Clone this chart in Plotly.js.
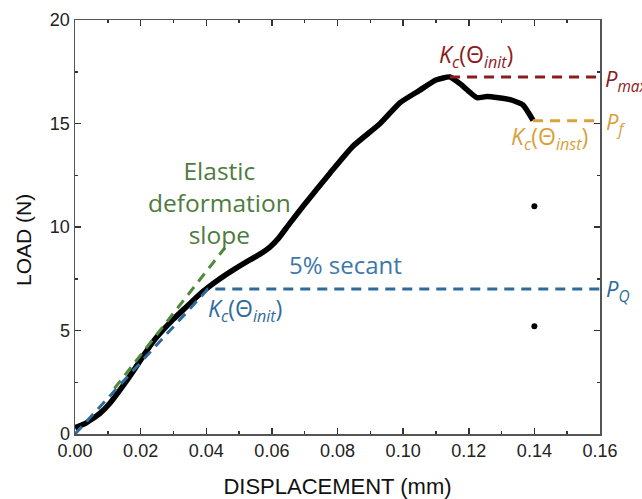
<!DOCTYPE html>
<html>
<head>
<meta charset="utf-8">
<script src="https://cdn.plot.ly/plotly-3.0.1.min.js"></script>
<style>html,body{margin:0;padding:0;background:#fff;}#chart{width:642px;height:499px;}</style>
</head>
<body>
<div id="chart"></div>
<script>
// Measured load-displacement curve
const displacement = [0, 0.003, 0.0076, 0.0107, 0.0145, 0.0178, 0.0207, 0.024, 0.027, 0.030, 0.034, 0.038, 0.0433, 0.0485, 0.0533, 0.0565, 0.0594, 0.062, 0.0655, 0.0695, 0.0777, 0.0847, 0.093, 0.099, 0.105, 0.110, 0.1143, 0.1175, 0.1204, 0.1225, 0.1256, 0.1326, 0.1365, 0.1396];
const load = [0.3, 0.5, 1.0, 1.5, 2.3, 3.05, 3.75, 4.5, 5.05, 5.55, 6.15, 6.75, 7.4, 7.95, 8.41, 8.7, 9.03, 9.45, 10.19, 11.0, 12.6, 13.9, 15.0, 16.0, 16.6, 17.1, 17.25, 16.9, 16.5, 16.25, 16.3, 16.15, 15.9, 15.15];
// Isolated points
const dotX = [0.14, 0.14];
const dotY = [11.0, 5.2];
// Reference lines
const elasticX = [0.012, 0.0457];
const elasticY = [2.2, 9.0];
const secantX = [0, 0.0405, 0.16];
const secantY = [0, 7.0, 7.0];
const pmaxX = [0.1143, 0.16];
const pmaxY = [17.25, 17.25];
const pfX = [0.1396, 0.16];
const pfY = [15.13, 15.13];

const cRed = '#8B1C1E', cOrange = '#D9A13C', cBlue = '#2E6B9C', cGreen = '#4E8A3C';
const dashP = '10px,7px';

const traces = [
  {x: displacement, y: load, mode: 'lines', line: {color: '#000', width: 5.5, shape: 'spline', smoothing: 0.5}},
  {x: dotX, y: dotY, mode: 'markers', marker: {color: '#000', size: 6}},
  {x: elasticX, y: elasticY, mode: 'lines', line: {color: cGreen, width: 3, dash: dashP}},
  {x: secantX, y: secantY, mode: 'lines', line: {color: cBlue, width: 3, dash: dashP}},
  {x: pmaxX, y: pmaxY, mode: 'lines', line: {color: cRed, width: 3, dash: dashP}},
  {x: pfX, y: pfY, mode: 'lines', line: {color: cOrange, width: 3, dash: dashP}}
];

const lab = (text, x, y, color, size, xa, ya, xref, yref) => ({
  text: text, x: x, y: y, xref: xref || 'x', yref: yref || 'y', showarrow: false,
  xanchor: xa || 'left', yanchor: ya || 'middle',
  font: {family: 'Open Sans', size: size, color: color}
});

const kInit = '<i>K</i><sub><i>c</i></sub>(Θ<sub><i>init</i></sub>)';
const kInst = '<i>K</i><sub><i>c</i></sub>(Θ<sub><i>inst</i></sub>)';

const annotations = [
  lab('Elastic<br>deformation<br>slope', 0.0439, 11.2, '#4F7B3F', 24.5, 'center'),
  lab('5% secant', 0.0823, 8.2, '#3C78AA', 24, 'center'),
  lab(kInit, 0.0398, 6.0, cBlue, 23),
  lab(kInit, 0.1102, 18.3, cRed, 23),
  lab(kInst, 0.1322, 14.3, cOrange, 23),
  lab('<i>P</i><sub><i>max</i></sub>', 1.006, 0.855, cRed, 22, 'left', 'middle', 'paper', 'paper'),
  lab('<i>P</i><sub><i>f</i></sub>', 1.008, 0.752, cOrange, 22, 'left', 'middle', 'paper', 'paper'),
  lab('<i>P</i><sub><i>Q</i></sub>', 1.008, 0.348, cBlue, 22, 'left', 'middle', 'paper', 'paper'),
  {text: 'LOAD (N)', x: -0.097, y: 0.469, xref: 'paper', yref: 'paper', showarrow: false,
   textangle: -90, xanchor: 'center', yanchor: 'middle',
   font: {family: 'Liberation Sans, Arial', size: 21, color: '#111'}}
];

const axisCommon = {
  showline: true, linecolor: '#555', linewidth: 1.5, mirror: 'ticks',
  ticks: 'inside', ticklen: 6, tickwidth: 1.5, tickcolor: '#333',
  showgrid: false, zeroline: false,
  tickfont: {family: 'Liberation Sans, Arial', size: 18, color: '#222'}
};

const layout = {
  width: 642, height: 499,
  margin: {l: 75, r: 42, t: 20, b: 65},
  paper_bgcolor: '#fff', plot_bgcolor: '#fff',
  showlegend: false,
  xaxis: Object.assign({}, axisCommon, {
    range: [0, 0.16], dtick: 0.02, tick0: 0, tickformat: '.2f',
    minor: {ticks: 'inside', ticklen: 3, dtick: 0.01, tickwidth: 1.5, tickcolor: '#333'},
    title: {text: 'DISPLACEMENT (mm)', font: {family: 'Liberation Sans, Arial', size: 22, color: '#111'}, standoff: 19}
  }),
  yaxis: Object.assign({}, axisCommon, {
    range: [0, 20], dtick: 5, tick0: 0,
    minor: {ticks: 'inside', ticklen: 3, dtick: 2.5, tickwidth: 1.5, tickcolor: '#333'}
  }),
  annotations: annotations
};

Plotly.newPlot('chart', traces, layout, {displayModeBar: false, staticPlot: true});
</script>
</body>
</html>
